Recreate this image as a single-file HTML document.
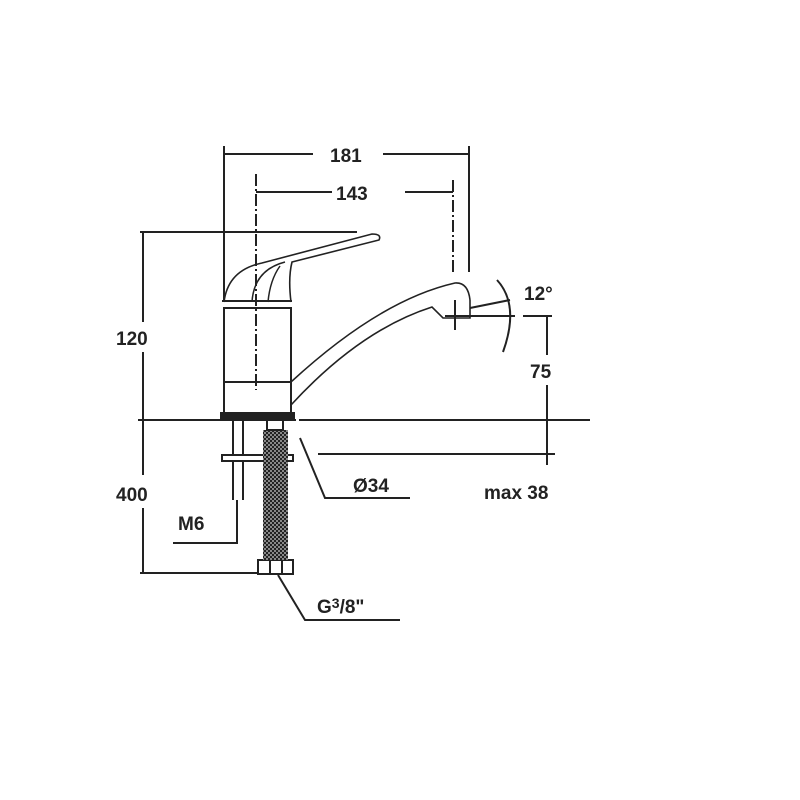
<!DOCTYPE html>
<html><head><style>body{margin:0;background:#fff}svg{display:block}text{font-family:"Liberation Sans",sans-serif;font-weight:bold;font-size:19px;fill:#222}</style></head><body>
<svg width="800" height="800" viewBox="0 0 800 800" xmlns="http://www.w3.org/2000/svg">
<defs><pattern id="chk" width="4" height="4" patternUnits="userSpaceOnUse"><rect width="4" height="4" fill="#222"/><rect width="2" height="2" fill="#888"/><rect x="2" y="2" width="2" height="2" fill="#888"/></pattern></defs>
<g stroke="#222" stroke-width="2" fill="none">
<line x1="224" y1="146" x2="224" y2="300"/><line x1="469" y1="146" x2="469" y2="272"/>
<line x1="224" y1="154" x2="313" y2="154"/><line x1="383" y1="154" x2="469" y2="154"/>
<line x1="256" y1="174" x2="256" y2="390" stroke-dasharray="12,3,2,3"/>
<line x1="453" y1="180" x2="453" y2="272" stroke-dasharray="12,3,2,3"/>
<line x1="256" y1="192" x2="332" y2="192"/><line x1="405" y1="192" x2="453" y2="192"/>
<line x1="140" y1="232" x2="357" y2="232"/>
<line x1="143" y1="232" x2="143" y2="322"/><line x1="143" y1="352" x2="143" y2="420"/>
<line x1="138" y1="420" x2="296" y2="420"/><line x1="299" y1="420" x2="590" y2="420"/>
<rect x="224" y="308" width="67" height="105"/><line x1="224" y1="382" x2="291" y2="382"/>
<path d="M224,302 Q228,270 262,263 L372,234 Q382,234 379,240 L292,262 Q288,278 291,302" stroke-width="1.6"/>
<path d="M252,302 Q254,270 285,262" stroke-width="1.5"/><path d="M268,302 Q270,280 280,266" stroke-width="1.5"/>
<line x1="222" y1="301" x2="292" y2="301"/>
<path d="M291,382 Q380,300 455,283 Q468,282 470,300" stroke-width="1.6"/>
<path d="M291,405 Q360,330 432,307 L443,318 L470,318 L470,300" stroke-width="1.6"/>
<line x1="455" y1="300" x2="455" y2="330"/><line x1="445" y1="316" x2="515" y2="316"/>
<line x1="470" y1="308" x2="510" y2="300"/>
<path d="M497,280 Q520,305 503,352"/>
<line x1="523" y1="316" x2="552" y2="316"/>
<line x1="547" y1="316" x2="547" y2="355"/><line x1="547" y1="385" x2="547" y2="465"/>
<line x1="318" y1="454" x2="555" y2="454"/>
<line x1="143" y1="420" x2="143" y2="475"/><line x1="143" y1="508" x2="143" y2="573"/>
<line x1="140" y1="573" x2="265" y2="573"/>
<polyline points="300,438 325,498 410,498"/>
<polyline points="237,500 237,543 173,543"/>
<polyline points="278,575 305,620 400,620"/>
</g>
<rect x="220" y="412" width="75" height="8" fill="#222"/>
<g stroke="#222" stroke-width="2" fill="none">
<line x1="233" y1="420" x2="233" y2="500"/><line x1="243" y1="420" x2="243" y2="500"/>
<rect x="222" y="455" width="71" height="6" fill="#fff"/>
<rect x="258" y="560" width="35" height="14" fill="#fff"/><line x1="270" y1="560" x2="270" y2="574"/><line x1="282" y1="560" x2="282" y2="574"/>
</g>
<rect x="263" y="430" width="25" height="130" fill="url(#chk)"/>
<rect x="267" y="420" width="16" height="10" fill="none" stroke="#222" stroke-width="2"/>
<text x="330" y="162">181</text>
<text x="336" y="200">143</text>
<text x="116" y="345">120</text>
<text x="116" y="501">400</text>
<text x="524" y="300">12°</text>
<text x="530" y="378">75</text>
<text x="353" y="492">Ø34</text>
<text x="484" y="499">max 38</text>
<text x="178" y="530">M6</text>
<text x="317" y="613">G<tspan dy="-5" font-size="14">3</tspan><tspan dy="5">/8"</tspan></text>
</svg>
</body></html>
